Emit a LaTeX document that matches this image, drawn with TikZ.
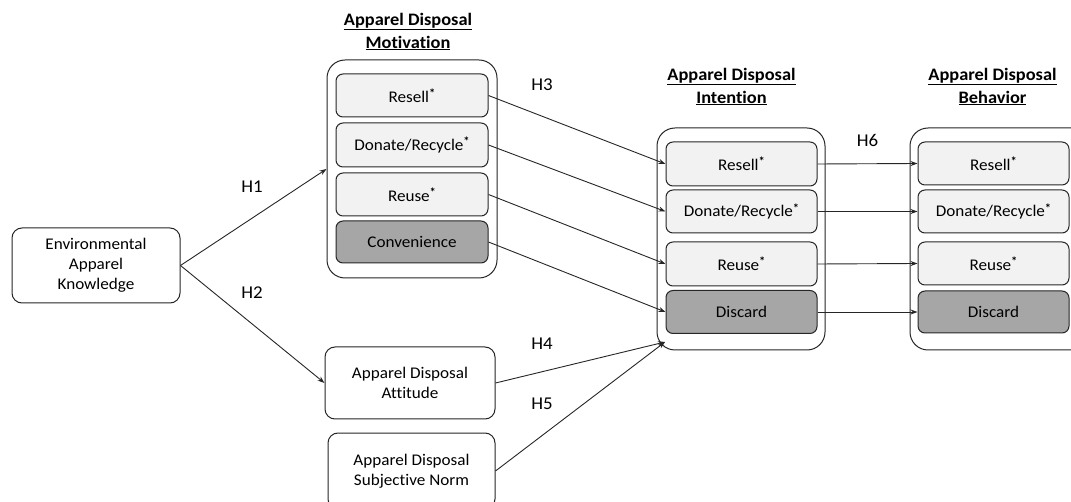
\documentclass[tikz,border=0pt]{standalone}
\usepackage{fontspec}
\setmainfont{Carlito}[Ligatures=NoCommon, FakeStretch=1.05]
\usetikzlibrary{arrows.meta}
\definecolor{lightbox}{HTML}{F2F2F2}
\definecolor{darkbox}{HTML}{A6A6A6}
\definecolor{linec}{HTML}{262626}
\newcommand{\starmark}{\raisebox{0.28em}{\fontsize{12}{12}\selectfont\bfseries *}}
\tikzset{
  outerbox/.style={draw=linec, line width=1pt, rounded corners=18pt, fill=white},
  itembox/.style={draw=linec, line width=1pt, rounded corners=7pt, fill=lightbox, font=\fontsize{16.3}{19}\selectfont, inner sep=0pt},
  darkitem/.style={itembox, fill=darkbox},
  plainbox/.style={draw=linec, line width=1pt, rounded corners=10pt, fill=white, font=\fontsize{16.3}{20}\selectfont, align=center, inner sep=0pt},
  title/.style={font=\bfseries\fontsize{17.5}{23}\selectfont, align=center},
  hlabel/.style={font=\fontsize{18}{20}\selectfont},
  arr/.style={draw=linec, line width=0.9pt, -{Stealth[length=7pt,width=5pt]}},
}
\begin{document}
\begin{tikzpicture}[x=1pt,y=-1pt]
\useasboundingbox (0,0) rectangle (1071,502);
\clip (0,0) rectangle (1071,502);
% Environmental knowledge
\node[plainbox, minimum width=168pt, minimum height=75pt] (env) at (96,265.5) {Environmental\\Apparel\\Knowledge};
% Motivation
\node[title] (tmot) at (408,31.5) {\underline{Apparel Disposal}\\\underline{Motivation}};
\node[outerbox, minimum width=170pt, minimum height=218pt] (mot) at (412,169) {};
\node[itembox, minimum width=152pt, minimum height=43pt] (mres) at (412,95.5) {Resell\starmark};
\node[itembox, minimum width=152pt, minimum height=44pt] (mdon) at (412,145) {Donate/Recycle\starmark};
\node[itembox, minimum width=152pt, minimum height=43pt] (mreu) at (412,194.5) {Reuse\starmark};
\node[darkitem, minimum width=152pt, minimum height=42pt] (mcon) at (412,242) {Convenience};
% Intention
\node[title] (tint) at (731.5,86.5) {\underline{Apparel Disposal}\\\underline{Intention}};
\node[outerbox, minimum width=168pt, minimum height=222pt] (int) at (741,239) {};
\node[itembox, minimum width=151pt, minimum height=44pt] (ires) at (741.5,164) {Resell\starmark};
\node[itembox, minimum width=151pt, minimum height=43pt] (idon) at (741.5,211.5) {Donate/Recycle\starmark};
\node[itembox, minimum width=151pt, minimum height=44pt] (ireu) at (741.5,264) {Reuse\starmark};
\node[darkitem, minimum width=151pt, minimum height=43pt] (idis) at (741.5,312) {Discard};
% Behavior
\node[title] (tbeh) at (992.5,86.5) {\underline{Apparel Disposal}\\\underline{Behavior}};
\node[outerbox, minimum width=180pt, minimum height=222pt] (beh) at (1000,239) {};
\node[itembox, minimum width=151pt, minimum height=43pt] (bres) at (993.5,163.5) {Resell\starmark};
\node[itembox, minimum width=151pt, minimum height=43pt] (bdon) at (993.5,211.5) {Donate/Recycle\starmark};
\node[itembox, minimum width=151pt, minimum height=43pt] (breu) at (993.5,263.5) {Reuse\starmark};
\node[darkitem, minimum width=151pt, minimum height=42pt] (bdis) at (993.5,312) {Discard};
% Attitude and norm
\node[plainbox, minimum width=170pt, minimum height=72pt] (att) at (410,383) {Apparel Disposal\\Attitude};
\node[plainbox, minimum width=167pt, minimum height=76pt] (sub) at (411.5,471) {Apparel Disposal\\Subjective Norm};
\coordinate (cin) at (665,342);
% Arrows
\draw[arr] (env.east) -- (mot.west);
\draw[arr] (env.east) -- (att.west);
\draw[arr] (mres.east) -- (ires.west);
\draw[arr] (mdon.east) -- (idon.west);
\draw[arr] (mreu.east) -- (ireu.west);
\draw[arr] (mcon.east) -- (idis.west);
\draw[arr] (att.east) -- (cin);
\draw[arr] (sub.east) -- (cin);
\draw[arr] (ires.east) -- (bres.west);
\draw[arr] (idon.east) -- (bdon.west);
\draw[arr] (ireu.east) -- (breu.west);
\draw[arr] (idis.east) -- (bdis.west);
% Labels
\node[hlabel] (h1) at (252,187) {H1};
\node[hlabel] (h2) at (252,293) {H2};
\node[hlabel] (h3) at (542,85) {H3};
\node[hlabel] (h4) at (542,344) {H4};
\node[hlabel] (h5) at (542,404) {H5};
\node[hlabel] (h6) at (867.5,140) {H6};
\end{tikzpicture}
\end{document}
